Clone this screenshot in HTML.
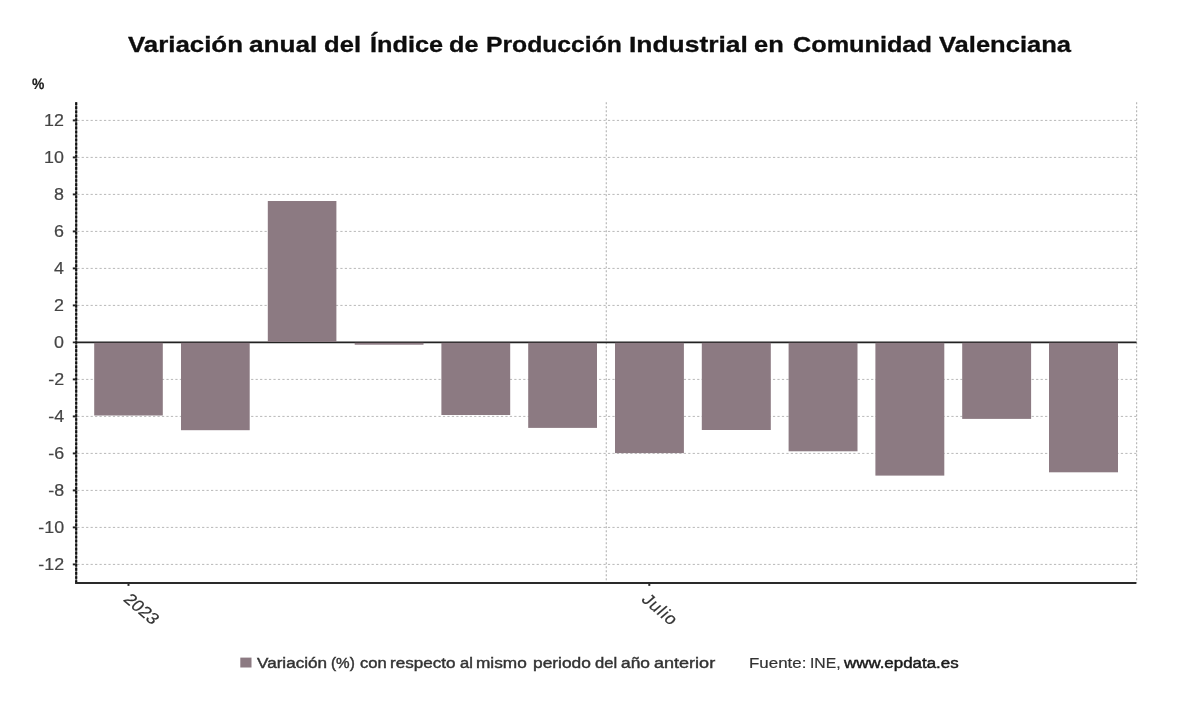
<!DOCTYPE html>
<html lang="es">
<head>
<meta charset="utf-8">
<title>Variación anual del Índice de Producción Industrial en Comunidad Valenciana</title>
<style>
html,body{margin:0;padding:0;background:#fff;}
body{width:1200px;height:704px;overflow:hidden;position:relative;font-family:"Liberation Sans","DejaVu Sans",sans-serif;}
svg{display:block;position:absolute;left:0;top:0;}
.t{position:absolute;white-space:nowrap;line-height:1;transform-origin:0 0;margin:0;padding:0;}
.r{transform-origin:100% 0;text-align:right;}
.ln{position:absolute;left:0;width:1200px;height:0;margin:0;padding:0;line-height:1;white-space:nowrap;}
.w{position:absolute;top:0;white-space:nowrap;line-height:1;transform-origin:0 0;}
h1{font-weight:bold;}
.title{font-weight:bold;font-size:21.9px;color:#0d0d0d;-webkit-text-stroke:0.3px #0d0d0d;}
.ylab{font-size:16px;color:#444;-webkit-text-stroke:0.2px #444;}
.xlab{font-size:16px;color:#333;-webkit-text-stroke:0.2px #333;}
.unit{font-weight:bold;font-size:14px;color:#1a1a1a;-webkit-text-stroke:0.2px #1a1a1a;}
.leg{font-size:14px;color:#333;-webkit-text-stroke:0.4px #333;}
.src{font-size:14px;color:#333;-webkit-text-stroke:0.2px #333;}
.src b{color:#1a1a1a;font-weight:normal;-webkit-text-stroke:0.45px #1a1a1a;}
</style>
</head>
<body>
<svg width="1200" height="704" viewBox="0 0 1200 704">
<rect x="0" y="0" width="1200" height="704" fill="#ffffff"/>
<g stroke="#b8b8b8" stroke-width="1" stroke-dasharray="2.23,2.23" fill="none">
<line x1="77.2" y1="564.4" x2="1136.6" y2="564.4"/>
<line x1="77.2" y1="527.4" x2="1136.6" y2="527.4"/>
<line x1="77.2" y1="490.4" x2="1136.6" y2="490.4"/>
<line x1="77.2" y1="453.4" x2="1136.6" y2="453.4"/>
<line x1="77.2" y1="416.4" x2="1136.6" y2="416.4"/>
<line x1="77.2" y1="379.4" x2="1136.6" y2="379.4"/>
<line x1="77.2" y1="305.4" x2="1136.6" y2="305.4"/>
<line x1="77.2" y1="268.4" x2="1136.6" y2="268.4"/>
<line x1="77.2" y1="231.4" x2="1136.6" y2="231.4"/>
<line x1="77.2" y1="194.4" x2="1136.6" y2="194.4"/>
<line x1="77.2" y1="157.4" x2="1136.6" y2="157.4"/>
<line x1="77.2" y1="120.4" x2="1136.6" y2="120.4"/>
</g>
<g stroke="#b8b8b8" stroke-width="1.2" stroke-dasharray="1.9,2.1" fill="none">
<line x1="606.3" y1="102.3" x2="606.3" y2="582.8"/>
<line x1="1136.6" y1="102.3" x2="1136.6" y2="582.8"/>
</g>
<line x1="72.8" y1="342.4" x2="1136.6" y2="342.4" stroke="#222" stroke-width="1.9"/>
<g fill="#8c7a82">
<rect x="94.2" y="342.8" width="68.6" height="72.7"/>
<rect x="181.0" y="342.8" width="68.7" height="87.4"/>
<rect x="267.8" y="201.0" width="68.6" height="140.9"/>
<rect x="354.7" y="342.8" width="68.8" height="1.9"/>
<rect x="441.4" y="342.8" width="68.8" height="72.2"/>
<rect x="528.2" y="342.8" width="68.8" height="85.1"/>
<rect x="615.0" y="342.8" width="68.9" height="110.3"/>
<rect x="701.8" y="342.8" width="69.0" height="87.2"/>
<rect x="788.6" y="342.8" width="68.9" height="108.5"/>
<rect x="875.4" y="342.8" width="68.9" height="132.8"/>
<rect x="962.2" y="342.8" width="68.9" height="76.1"/>
<rect x="1049.0" y="342.8" width="69.0" height="129.5"/>
</g>
<line x1="76.2" y1="102.3" x2="76.2" y2="583.8" stroke="#6a6a6a" stroke-width="1.9"/>
<line x1="76.2" y1="102.3" x2="76.2" y2="583.8" stroke="#111" stroke-width="2.1" stroke-dasharray="2.6,1.45"/>
<g stroke="#222" stroke-width="1.9">
<line x1="72.8" y1="564.4" x2="76.2" y2="564.4"/>
<line x1="72.8" y1="527.4" x2="76.2" y2="527.4"/>
<line x1="72.8" y1="490.4" x2="76.2" y2="490.4"/>
<line x1="72.8" y1="453.4" x2="76.2" y2="453.4"/>
<line x1="72.8" y1="416.4" x2="76.2" y2="416.4"/>
<line x1="72.8" y1="379.4" x2="76.2" y2="379.4"/>
<line x1="72.8" y1="305.4" x2="76.2" y2="305.4"/>
<line x1="72.8" y1="268.4" x2="76.2" y2="268.4"/>
<line x1="72.8" y1="231.4" x2="76.2" y2="231.4"/>
<line x1="72.8" y1="194.4" x2="76.2" y2="194.4"/>
<line x1="72.8" y1="157.4" x2="76.2" y2="157.4"/>
<line x1="72.8" y1="120.4" x2="76.2" y2="120.4"/>
</g>
<line x1="75.10000000000001" y1="582.9499999999999" x2="1136.3999999999999" y2="582.9499999999999" stroke="#2a2a2a" stroke-width="2.05"/>
<line x1="128.5" y1="582.8" x2="128.5" y2="585.9" stroke="#2a2a2a" stroke-width="2"/>
<line x1="649.3" y1="582.8" x2="649.3" y2="585.9" stroke="#2a2a2a" stroke-width="2"/>
<rect x="240.3" y="657.6" width="11.2" height="9.9" fill="#8c7a82"/>
</svg>
<h1 class="ln title" style="top:33.66px"><span class="w" style="left:127.73px;transform:scaleX(1.1809)">Variación</span> <span class="w" style="left:249.43px;transform:scaleX(1.1929)">anual</span> <span class="w" style="left:324.32px;transform:scaleX(1.1703)">del</span> <span class="w" style="left:369.50px;transform:scaleX(1.1556)">Índice</span> <span class="w" style="left:449.19px;transform:scaleX(1.1511)">de</span> <span class="w" style="left:486.31px;transform:scaleX(1.1285)">Producción</span> <span class="w" style="left:629.45px;transform:scaleX(1.2061)">Industrial</span> <span class="w" style="left:754.46px;transform:scaleX(1.1628)">en</span> <span class="w" style="left:792.57px;transform:scaleX(1.1529)">Comunidad</span> <span class="w" style="left:939.13px;transform:scaleX(1.1665)">Valenciana</span></h1>
<div class="t unit" style="left:32.3px;top:76.95px;transform:scale(0.99,1.09) rotate(0.03deg);transform-origin:0 0.8465em">%</div>
<div class="t r ylab" style="right:1136.1px;top:113.06px;transform:scaleX(1.115)">12</div>
<div class="t r ylab" style="right:1136.1px;top:150.06px;transform:scaleX(1.115)">10</div>
<div class="t r ylab" style="right:1136.1px;top:187.06px;transform:scaleX(1.115)">8</div>
<div class="t r ylab" style="right:1136.1px;top:224.06px;transform:scaleX(1.115)">6</div>
<div class="t r ylab" style="right:1136.1px;top:261.06px;transform:scaleX(1.115)">4</div>
<div class="t r ylab" style="right:1136.1px;top:298.06px;transform:scaleX(1.115)">2</div>
<div class="t r ylab" style="right:1136.1px;top:335.06px;transform:scaleX(1.115)">0</div>
<div class="t r ylab" style="right:1136.1px;top:372.06px;transform:scaleX(1.115)">-2</div>
<div class="t r ylab" style="right:1136.1px;top:409.06px;transform:scaleX(1.115)">-4</div>
<div class="t r ylab" style="right:1136.1px;top:446.06px;transform:scaleX(1.115)">-6</div>
<div class="t r ylab" style="right:1136.1px;top:483.06px;transform:scaleX(1.115)">-8</div>
<div class="t r ylab" style="right:1136.1px;top:520.06px;transform:scaleX(1.115)">-10</div>
<div class="t r ylab" style="right:1136.1px;top:557.06px;transform:scaleX(1.115)">-12</div>
<div class="t xlab" style="left:121.5px;top:587px;transform:scaleX(1.17) rotate(45deg);transform-origin:0 0.8465em">2023</div>
<div class="t xlab" style="left:639.6px;top:587px;letter-spacing:0.85px;transform:scaleX(1.17) rotate(45deg);transform-origin:0 0.8465em">Julio</div>
<div class="ln leg" style="top:656.05px"><span class="w" style="left:257.30px;transform:scaleX(1.2215)">Variación</span> <span class="w" style="left:331.44px;transform:scaleX(1.091)">(%)</span> <span class="w" style="left:359.58px;transform:scaleX(1.1852)">con</span> <span class="w" style="left:389.92px;transform:scaleX(1.2181)">respecto</span> <span class="w" style="left:459.56px;transform:scaleX(1.1816)">al</span> <span class="w" style="left:476.49px;transform:scaleX(1.2319)">mismo</span> <span class="w" style="left:532.54px;transform:scaleX(1.2395)">periodo</span> <span class="w" style="left:595.06px;transform:scaleX(1.1834)">del</span> <span class="w" style="left:621.45px;transform:scaleX(1.2378)">año</span> <span class="w" style="left:653.71px;transform:scaleX(1.2881)">anterior</span></div>
<div class="ln src" style="top:656.05px"><span class="w" style="left:748.77px;transform:scaleX(1.2075)">Fuente:</span> <span class="w" style="left:810.07px;transform:scaleX(1.1209)">INE,</span> <span class="w" style="left:844.30px;transform:scaleX(1.207)"><b>www.epdata.es</b></span></div>
</body>
</html>
